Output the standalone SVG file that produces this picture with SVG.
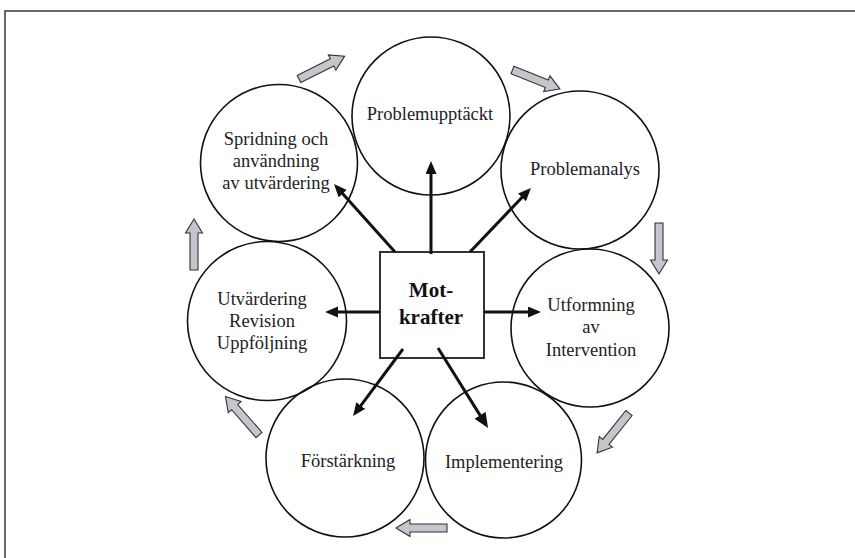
<svg xmlns="http://www.w3.org/2000/svg" width="855" height="558" viewBox="0 0 855 558">
<style>
.c{fill:none;stroke:#111;stroke-width:1.6}
.t{font-family:"Liberation Serif","Times New Roman",serif;font-size:18.5px;fill:#222;text-anchor:middle}
.b{font-family:"Liberation Serif","Times New Roman",serif;font-size:21px;font-weight:bold;fill:#111;text-anchor:middle}
.k{stroke:#111;stroke-width:3;fill:none}
.g{fill:#c3c6cc;stroke:#333;stroke-width:1.1;stroke-linejoin:miter}
</style>
<defs>
<marker id="ah" markerUnits="userSpaceOnUse" markerWidth="14" markerHeight="12" refX="9" refY="5.5" orient="auto">
<path d="M0,0 L13,5.5 L0,11 z" fill="#111"/>
</marker>
<marker id="ah2" markerUnits="userSpaceOnUse" markerWidth="16" markerHeight="14" refX="11" refY="6.5" orient="auto">
<path d="M0,0 L15,6.5 L0,13 z" fill="#111"/>
</marker>
<path id="blk" d="M0,-4 L37,-4 L37,-8.5 L51,0 L37,8.5 L37,4 L0,4 z"/>
</defs>
<rect x="5" y="11" width="860" height="560" fill="#fff" stroke="#444" stroke-width="1.6"/>

<g id="n-problemupptackt">
<circle class="c" cx="431" cy="116" r="79"/>
<text class="t" x="430" y="120">Problemupptäckt</text>
</g>
<g id="n-problemanalys">
<circle class="c" cx="580" cy="170" r="79"/>
<text class="t" x="585" y="175">Problemanalys</text>
</g>
<g id="n-utformning">
<circle class="c" cx="590" cy="328" r="79"/>
<text class="t" x="591" y="311">Utformning</text>
<text class="t" x="591" y="333">av</text>
<text class="t" x="591" y="356">Intervention</text>
</g>
<g id="n-implementering">
<circle class="c" cx="503.5" cy="460" r="78"/>
<text class="t" x="504" y="468">Implementering</text>
</g>
<g id="n-forstarkning">
<circle class="c" cx="345" cy="458" r="79"/>
<text class="t" x="348" y="467">Förstärkning</text>
</g>
<g id="n-utvardering">
<circle class="c" cx="267" cy="321" r="79.5"/>
<text class="t" x="262" y="305">Utvärdering</text>
<text class="t" x="262" y="327">Revision</text>
<text class="t" x="262" y="349">Uppföljning</text>
</g>
<g id="n-spridning">
<circle class="c" cx="279" cy="163" r="78.5"/>
<text class="t" x="276" y="145">Spridning och</text>
<text class="t" x="276" y="167">användning</text>
<text class="t" x="276" y="189">av utvärdering</text>
</g>
<g id="n-motkrafter">
<rect x="380" y="252" width="104" height="106" fill="#fff" stroke="#333" stroke-width="2"/>
<text class="b" x="431" y="297">Mot-</text>
<text class="b" x="431" y="324">krafter</text>
</g>

<g id="connectors">
<line class="k" x1="431" y1="254" x2="431" y2="165" marker-end="url(#ah)"/>
<line class="k" x1="395" y1="252" x2="336.7" y2="187" marker-end="url(#ah)"/>
<line class="k" x1="470" y1="252" x2="528.2" y2="190.9" marker-end="url(#ah)"/>
<line class="k" x1="380" y1="312" x2="329" y2="312" marker-end="url(#ah)"/>
<line class="k" x1="484" y1="312" x2="537" y2="312" marker-end="url(#ah)"/>
<line class="k" x1="403" y1="349" x2="355.4" y2="412.8" marker-end="url(#ah)"/>
<line class="k" x1="438" y1="348" x2="485.9" y2="424.6" stroke-width="4" marker-end="url(#ah2)"/>

<use href="#blk" class="g" transform="translate(299,79) rotate(-26.6)"/>
<use href="#blk" class="g" transform="translate(512.5,70) rotate(21.8)"/>
<use href="#blk" class="g" transform="translate(659,223) rotate(90)"/>
<use href="#blk" class="g" transform="translate(629,413) rotate(128.7)"/>
<use href="#blk" class="g" transform="translate(447,528) rotate(180)"/>
<use href="#blk" class="g" transform="translate(259,435) rotate(-131.1)"/>
<use href="#blk" class="g" transform="translate(194,270) rotate(-90)"/>
</g>
</svg>
